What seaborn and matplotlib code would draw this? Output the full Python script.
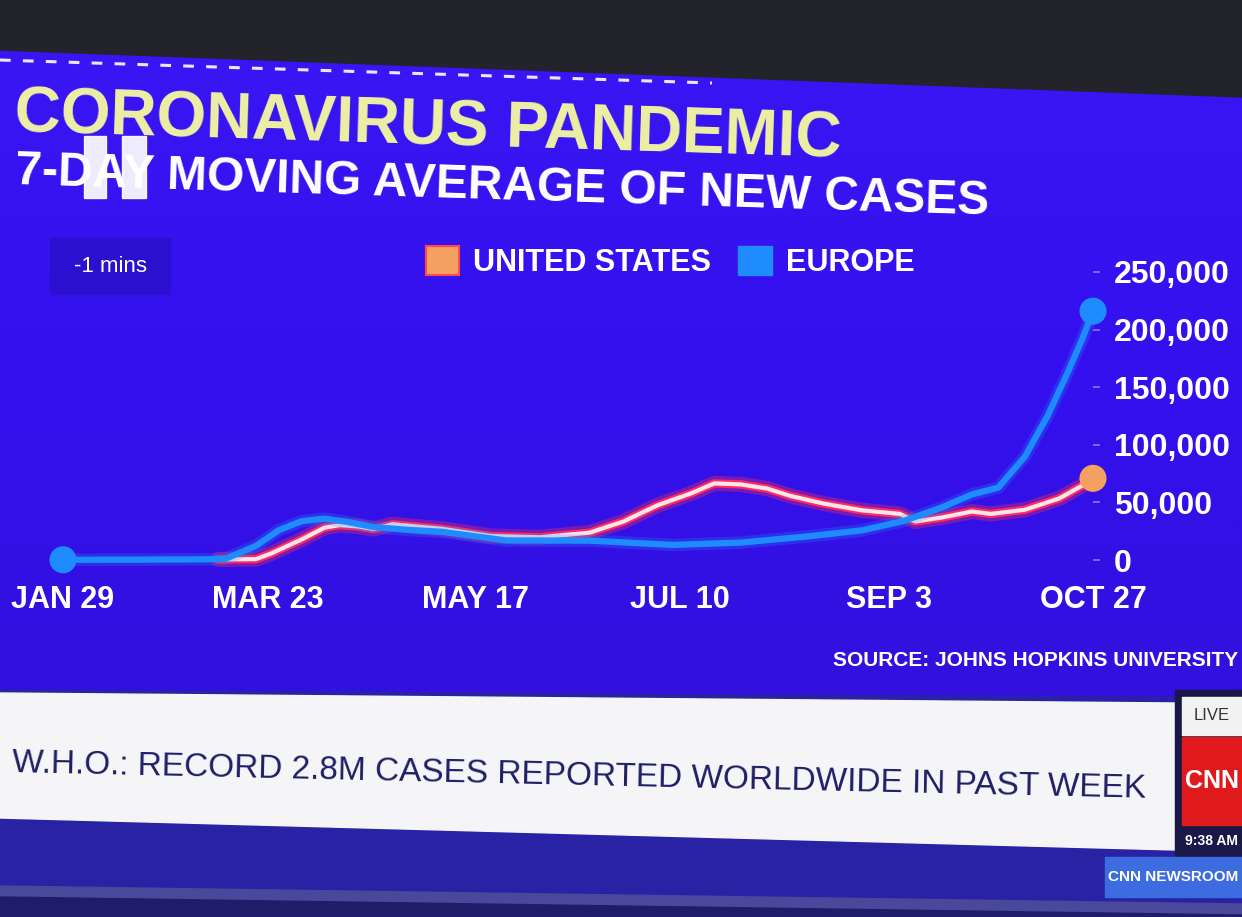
import numpy as np
import pandas as pd
import matplotlib
matplotlib.use('Agg')
import matplotlib.pyplot as plt
from matplotlib.patches import Rectangle, Polygon, Patch
from matplotlib.colors import LinearSegmentedColormap
from matplotlib.ticker import FuncFormatter
import seaborn as sns

# ---------------------------------------------------------------
# data (7-day moving average of new cases)
# ---------------------------------------------------------------
US_DATES = ['2020-03-10', '2020-03-20', '2020-03-24', '2020-04-01', '2020-04-07',
            '2020-04-11', '2020-04-16', '2020-04-20', '2020-04-25', '2020-05-08',
            '2020-05-21', '2020-06-03', '2020-06-16', '2020-06-25', '2020-07-04',
            '2020-07-13', '2020-07-19', '2020-07-26', '2020-08-02', '2020-08-08',
            '2020-08-17', '2020-08-27', '2020-09-06', '2020-09-10', '2020-09-17',
            '2020-09-25', '2020-09-30', '2020-10-09', '2020-10-18', '2020-10-24',
            '2020-10-27']
US_CASES = [500, 800, 5700, 17800, 28000,
            30300, 29100, 26900, 31000, 27100,
            20800, 19700, 23700, 33400, 47500,
            58000, 66500, 65600, 62000, 55700,
            48900, 43100, 40000, 33500, 36800,
            42100, 40000, 43600, 53300, 64300,
            70900]

EU_DATES = ['2020-01-29', '2020-02-18', '2020-03-07', '2020-03-12', '2020-03-20',
            '2020-03-26', '2020-04-01', '2020-04-07', '2020-04-13', '2020-04-20',
            '2020-04-29', '2020-05-08', '2020-05-25', '2020-06-16', '2020-07-08',
            '2020-07-26', '2020-08-13', '2020-08-27', '2020-09-07', '2020-09-17',
            '2020-09-25', '2020-10-02', '2020-10-09', '2020-10-15', '2020-10-20',
            '2020-10-24', '2020-10-27']
EU_CASES = [200, 300, 600, 1200, 12300,
            25900, 33700, 35900, 33100, 28600,
            26200, 24500, 17000, 16800, 13100,
            15100, 20600, 25700, 33900, 45500,
            56900, 62900, 89700, 125000, 160500,
            190500, 216000]

TICK_DATES = ['2020-01-29', '2020-03-23', '2020-05-17', '2020-07-10', '2020-09-03', '2020-10-27']
TICK_LABELS = ['JAN 29', 'MAR 23', 'MAY 17', 'JUL 10', 'SEP 3', 'OCT 27']
Y_TICKS = [0, 50000, 100000, 150000, 200000, 250000]

SERIES = ['UNITED STATES', 'EUROPE']
TITLE = 'CORONAVIRUS PANDEMIC'
SUBTITLE = '7-DAY MOVING AVERAGE OF NEW CASES'
SOURCE = 'SOURCE: JOHNS HOPKINS UNIVERSITY'
TICKER = 'W.H.O.: RECORD 2.8M CASES REPORTED WORLDWIDE IN PAST WEEK'

# colours
BG_BLUE = ['#3a16f4', '#3410ee', '#3210dc']
US_ORANGE = '#f4a060'
US_RED = '#ff2a5a'
EU_BLUE = '#1e8cff'
TITLE_YELLOW = '#eef0a4'

FONT = ['Liberation Sans', 'DejaVu Sans']

sns.set_theme(style='dark')
plt.rcParams['font.family'] = FONT

W, H = 1242, 917
fig = plt.figure(figsize=(W / 100, H / 100), dpi=100)

# ---------------------------------------------------------------
# backdrop (pixel coordinates)
# ---------------------------------------------------------------
bg = fig.add_axes([0, 0, 1, 1], zorder=0)
grad = np.linspace(0, 1, 256)[:, None]
bg.imshow(grad, extent=(0, W, 720, 40), aspect='auto',
          cmap=LinearSegmentedColormap.from_list('tv', BG_BLUE))
# top bezel of the TV + dashed rule
bg.add_patch(Polygon([(0, 0), (W, 0), (W, 97), (0, 50)], color='#23232c'))
bg.plot([0, 712], [60, 83], color='white', lw=2.2, ls=(0, (3.5, 4)), alpha=0.9)
# "-1 mins" overlay box
bg.add_patch(Rectangle((50, 238), 120, 56, color='#2c10d0'))
bg.text(110, 266, '-1 mins', color='white', fontsize=16, ha='center', va='center')
# white overlay bars on the subtitle
bg.add_patch(Rectangle((84, 136), 22, 62, color='white', alpha=0.92, zorder=5))
bg.add_patch(Rectangle((122, 136), 24, 62, color='white', alpha=0.92, zorder=5))

# lower strip: ticker, channel bug
bg.add_patch(Polygon([(0, 690), (W, 698), (W, H), (0, H)], color='#2a22a4'))
bg.add_patch(Polygon([(0, 886), (W, 904), (W, H), (0, H)], color='#4a489a'))
bg.add_patch(Polygon([(0, 897), (W, 915), (W, H), (0, H)], color='#1f1d6a'))
bg.add_patch(Polygon([(0, 693), (1175, 703), (1175, 850), (0, 818)], color='#f5f5f8'))
bg.add_patch(Rectangle((1175, 690), 67, 170, color='#1a1848'))
bg.add_patch(Rectangle((1182, 697), 60, 38, color='#f2f2f2'))
bg.text(1212, 716, 'LIVE', color='#333333', fontsize=12, ha='center', va='center')
bg.add_patch(Rectangle((1182, 737), 60, 88, color='#e01a1a'))
bg.text(1212, 781, 'CNN', color='white', fontsize=18, fontweight='bold',
        ha='center', va='center')
bg.text(1211, 841, '9:38 AM', color='white', fontsize=10, fontweight='bold',
        ha='center', va='center')
bg.add_patch(Rectangle((1105, 857), 137, 40, color='#3c6ce0'))
bg.text(1173, 877, 'CNN NEWSROOM', color='white', fontsize=11, fontweight='bold',
        ha='center', va='center')
bg.text(12, 764, TICKER, color='#1f1f66', fontsize=24, ha='left', va='center',
        rotation=-1.3, rotation_mode='anchor')

# titles
bg.text(15, 115, TITLE, color=TITLE_YELLOW, fontsize=46, fontweight='bold',
        ha='left', va='center', rotation=-1.8, rotation_mode='anchor')
bg.text(15, 172, SUBTITLE, color='white', fontsize=34.5, fontweight='bold',
        ha='left', va='center', rotation=-1.8, rotation_mode='anchor')
bg.text(1238, 661, SOURCE, color='white', fontsize=15, fontweight='bold',
        ha='right', va='center')

bg.set_xlim(0, W)
bg.set_ylim(H, 0)
bg.axis('off')

# ---------------------------------------------------------------
# the chart itself
# ---------------------------------------------------------------
zero_px, top_px = 560, 560 - 288
ax = fig.add_axes([63 / W, 1 - zero_px / H, (1093 - 63) / W, (zero_px - top_px) / H], zorder=2)
ax.set_facecolor('none')

us = pd.DataFrame({'date': pd.to_datetime(US_DATES), 'cases': US_CASES, 'region': SERIES[0]})
eu = pd.DataFrame({'date': pd.to_datetime(EU_DATES), 'cases': EU_CASES, 'region': SERIES[1]})
df = pd.concat([us, eu], ignore_index=True)

# US: red glow with a white core
sns.lineplot(data=df[df.region == SERIES[0]], x='date', y='cases', color=US_RED,
             lw=11, alpha=0.35, estimator=None, ax=ax, clip_on=False)
sns.lineplot(data=df[df.region == SERIES[0]], x='date', y='cases', color=US_RED,
             lw=6, estimator=None, ax=ax, clip_on=False)
sns.lineplot(data=df[df.region == SERIES[0]], x='date', y='cases', color='#ffe6ee',
             lw=3, estimator=None, ax=ax, clip_on=False)
# Europe
sns.lineplot(data=df[df.region == SERIES[1]], x='date', y='cases', color=EU_BLUE,
             lw=9, alpha=0.25, estimator=None, ax=ax, clip_on=False)
sns.lineplot(data=df[df.region == SERIES[1]], x='date', y='cases', color=EU_BLUE,
             lw=4.5, estimator=None, ax=ax, clip_on=False)

# end markers
ends = pd.concat([eu.iloc[[0, -1]], us.iloc[[-1]]], ignore_index=True)
sns.scatterplot(data=ends, x='date', y='cases', hue='region',
                palette={SERIES[0]: US_ORANGE, SERIES[1]: EU_BLUE},
                s=380, edgecolor='none', legend=False, ax=ax, clip_on=False, zorder=5)

ax.set_xlim(pd.Timestamp(TICK_DATES[0]), pd.Timestamp(TICK_DATES[-1]))
ax.set_ylim(0, 250000)
ax.set_xticks(pd.to_datetime(TICK_DATES))
ax.set_xticklabels(TICK_LABELS)
ax.yaxis.tick_right()
ax.set_yticks(Y_TICKS)
ax.yaxis.set_major_formatter(FuncFormatter(lambda v, p: f'{int(v):,}'))
ax.tick_params(axis='x', length=0, pad=18, labelsize=22, labelcolor='white')
ax.tick_params(axis='y', length=5, width=1.2, color='#8c78ff', pad=10,
               labelsize=23, labelcolor='white')
for lbl in ax.get_xticklabels() + ax.get_yticklabels():
    lbl.set_fontweight('bold')
ax.set_xlabel('')
ax.set_ylabel('')
ax.grid(False)
for s in ax.spines.values():
    s.set_visible(False)

# legend: coloured squares
handles = [Patch(facecolor=US_ORANGE, edgecolor='#ff4a4a', lw=1.5),
           Patch(facecolor=EU_BLUE, edgecolor=EU_BLUE)]
leg = ax.legend(handles, SERIES, ncol=2, frameon=False, loc='center',
                bbox_to_anchor=(670 / W, 1 - 262 / H), bbox_transform=fig.transFigure,
                handlelength=1.1, handleheight=1.1, handletextpad=0.45, columnspacing=0.9,
                prop={'family': FONT, 'weight': 'bold', 'size': 22})
for t in leg.get_texts():
    t.set_color('white')

fig.savefig('out.png', dpi=100)
